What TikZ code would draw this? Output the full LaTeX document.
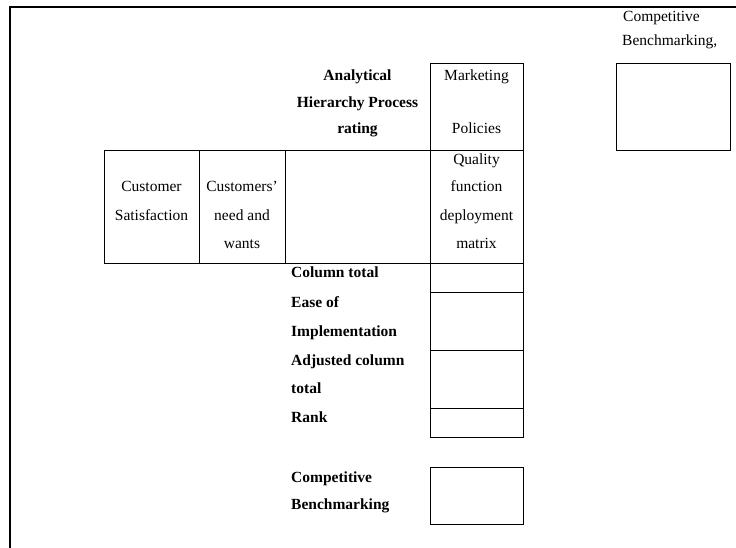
\documentclass[tikz,border=0pt]{standalone}
\usepackage{fontspec}
\setmainfont{Liberation Serif}
\begin{document}
\begin{tikzpicture}[x=1pt,y=-1pt,
  cell/.style={draw, line width=1.1pt, inner sep=0pt, anchor=north west},
  txt/.style={inner sep=0pt, anchor=base, font=\fontsize{15.5}{18}\selectfont},
  lbl/.style={inner sep=0pt, anchor=base west, font=\fontsize{15.5}{18}\selectfont\bfseries},
  hdr/.style={inner sep=0pt, anchor=base, font=\fontsize{15.5}{18}\selectfont\bfseries}]
\useasboundingbox (0,0) rectangle (736,548);
% page frame (top and left edges)
\draw[line width=1.4pt] (10,548) -- (10,7) -- (736,7);

% matrix cells
\node[cell, minimum width=95pt, minimum height=113pt] (cs) at (104,150) {};
\node[cell, minimum width=86pt, minimum height=113pt] (cn) at (199,150) {};
\node[cell, minimum width=145pt, minimum height=113pt] (blank) at (285,150) {};
\node[cell, minimum width=93pt, minimum height=113pt] (qfd) at (430,150) {};
\node[cell, minimum width=93pt, minimum height=87pt] (mkt) at (430,63) {};
\node[cell, minimum width=93pt, minimum height=29pt] (ct) at (430,263) {};
\node[cell, minimum width=93pt, minimum height=58pt] (ease) at (430,292) {};
\node[cell, minimum width=93pt, minimum height=58pt] (adj) at (430,350) {};
\node[cell, minimum width=93pt, minimum height=29pt] (rank) at (430,408) {};
\node[cell, minimum width=93pt, minimum height=57pt] (cb) at (430,467) {};
\node[cell, minimum width=114pt, minimum height=87pt] (cbtop) at (616,63) {};

% top-right heading
\node[txt, anchor=base west] (cbt1) at (623,22) {Competitive};
\node[txt, anchor=base west] (cbt2) at (622,46) {Benchmarking,};

% AHP heading
\node[hdr] (ahp1) at (357.5,81) {Analytical};
\node[hdr] (ahp2) at (357.5,108) {Hierarchy Process};
\node[hdr] (ahp3) at (357.5,134) {rating};

% marketing policies
\node[txt] (mk1) at (476.5,81) {Marketing};
\node[txt] (mk2) at (476.5,134) {Policies};

% QFD cell
\node[txt] (q1) at (476.5,165) {Quality};
\node[txt] (q2) at (476.5,192) {function};
\node[txt] (q3) at (476.5,220) {deployment};
\node[txt] (q4) at (476.5,248) {matrix};

% customer satisfaction
\node[txt] (c1) at (151.5,192) {Customer};
\node[txt] (c2) at (151.5,220) {Satisfaction};

% customers' needs
\node[txt] (n1) at (242,192) {Customers'};
\node[txt] (n2) at (242,220) {need and};
\node[txt] (n3) at (242,248) {wants};

% row labels
\node[lbl] (l1) at (291,277) {Column total};
\node[lbl] (l2) at (291,307) {Ease of};
\node[lbl] (l3) at (291,336) {Implementation};
\node[lbl] (l4) at (291,365) {Adjusted column};
\node[lbl] (l5) at (291,393) {total};
\node[lbl] (l6) at (291,422) {Rank};
\node[lbl] (l7) at (291,482) {Competitive};
\node[lbl] (l8) at (291,509) {Benchmarking};
\end{tikzpicture}
\end{document}
